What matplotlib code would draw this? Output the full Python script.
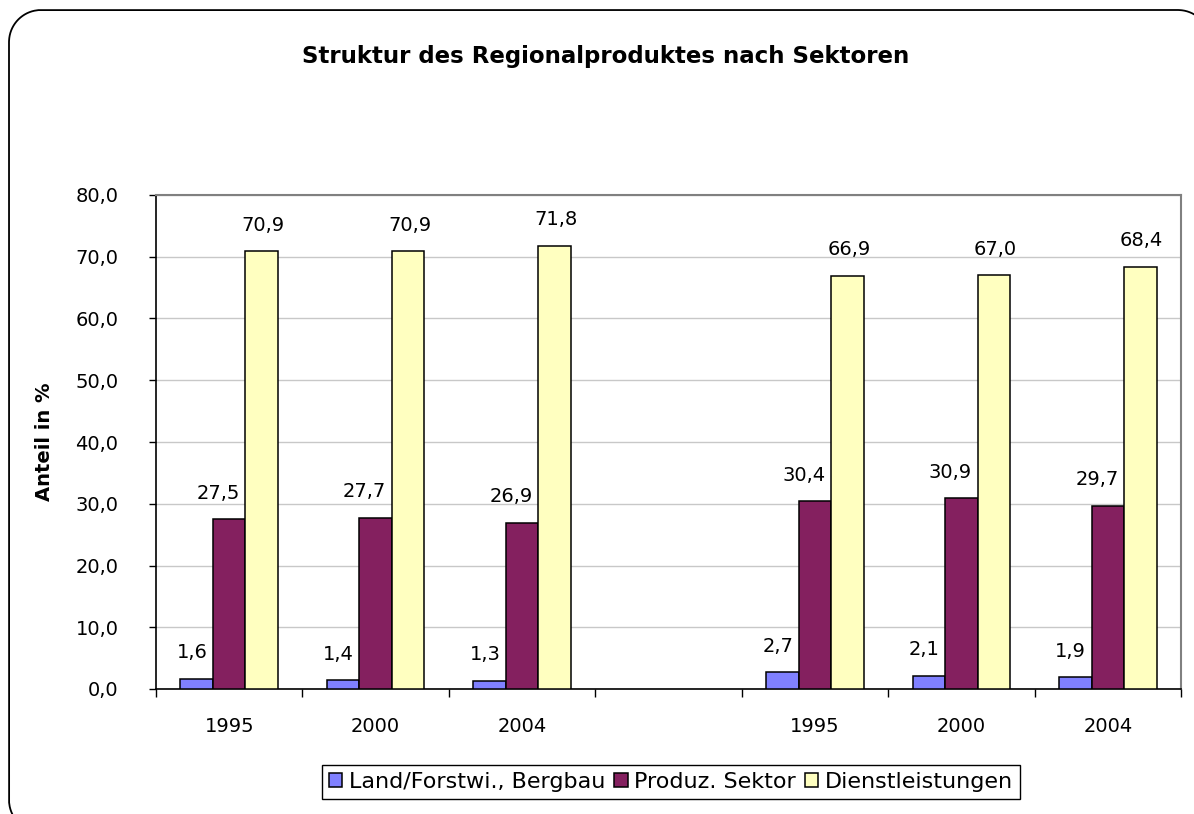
import numpy as np
import matplotlib
matplotlib.use('Agg')
import matplotlib.pyplot as plt
from matplotlib.lines import Line2D

plt.rcParams['font.family'] = ['DejaVu Sans']

years = ['1995', '2000', '2004', '', '1995', '2000', '2004']
land = [1.6, 1.4, 1.3, np.nan, 2.7, 2.1, 1.9]
produz = [27.5, 27.7, 26.9, np.nan, 30.4, 30.9, 29.7]
dienst = [70.9, 70.9, 71.8, np.nan, 66.9, 67.0, 68.4]
series_names = ['Land/Forstwi., Bergbau', 'Produz. Sektor', 'Dienstleistungen']
colors = ['#8080ff', '#84205f', '#ffffc0']

W, H = 1194, 814
fig = plt.figure(figsize=(W / 100, H / 100), dpi=100)
fig.patch.set_facecolor('white')

# outer rounded frame, partly outside the canvas (pixel coords, origin bottom-left)
r = 32
x0, x1, y0, y1 = 9, 1210, -18, H - 10
pts = []
for cx, cy, a0 in [(x1 - r, y1 - r, 0), (x0 + r, y1 - r, 90),
                   (x0 + r, y0 + r, 180), (x1 - r, y0 + r, 270)]:
    t = np.radians(np.linspace(a0, a0 + 90, 20))
    pts.append(np.column_stack([cx + r * np.cos(t), cy + r * np.sin(t)]))
pts.append(pts[0][:1])
pts = np.vstack(pts)
# dense resample so that off-canvas parts can be dropped cleanly
seg = np.linspace(0, 1, 60)
dense = np.vstack([a + (b - a) * seg[:, None] for a, b in zip(pts[:-1], pts[1:])])
outside = (dense[:, 0] < 0) | (dense[:, 0] > W) | (dense[:, 1] < 0) | (dense[:, 1] > H)
dense[outside] = np.nan
fig.add_artist(Line2D(dense[:, 0], dense[:, 1], transform=None, color='black', lw=1.3))

ax = fig.add_axes([156 / W, 1 - 689 / H, (1181 - 156) / W, (689 - 195) / H])

x = np.arange(len(years))
bw = 0.222
for i, (vals, col, name) in enumerate(zip([land, produz, dienst], colors, series_names)):
    pos = x + (i - 1) * bw
    ax.bar(pos, vals, width=bw, color=col, edgecolor='black', linewidth=1.1,
           label=name, zorder=3)
    for p, v in zip(pos, vals):
        if np.isnan(v):
            continue
        txt = f'{v:.1f}'.replace('.', ',')
        if i < 2:
            # keep label clear of the taller neighbouring bar
            ax.annotate(txt, (p + bw / 2, v), xytext=(-4, 12),
                        textcoords='offset points', ha='right', va='bottom', fontsize=14)
        else:
            ax.annotate(txt, (p, v), xytext=(1, 12),
                        textcoords='offset points', ha='center', va='bottom', fontsize=14)

ax.set_xlim(-0.5, len(years) - 0.5)
ax.set_ylim(0, 80)
ax.set_yticks(np.arange(0, 81, 10))
ax.set_yticklabels([f'{t:.1f}'.replace('.', ',') for t in np.arange(0, 81, 10)], fontsize=14)
ax.yaxis.grid(True, color='#c8c8c8', lw=1, zorder=0)
ax.tick_params(axis='y', direction='out', length=5, width=1, pad=22)

ax.set_xticks(np.arange(-0.5, len(years), 1.0))
ax.set_xticklabels([])
ax.set_xticks(x, minor=True)
ax.set_xticklabels(years, minor=True, fontsize=14)
ax.tick_params(axis='x', which='major', direction='out', length=6, width=1)
ax.tick_params(axis='x', which='minor', length=0, pad=20)

for s in ['left', 'bottom']:
    ax.spines[s].set_color('black')
    ax.spines[s].set_linewidth(1.2)
for s in ['top', 'right']:
    ax.spines[s].set_color('#808080')
    ax.spines[s].set_linewidth(1.5)

fig.text(606 / W, 1 - 57 / H, 'Struktur des Regionalproduktes nach Sektoren',
         ha='center', va='center', fontsize=16.5, fontweight='bold')
fig.text(45 / W, 1 - 442 / H, 'Anteil in %', rotation=90, ha='center', va='center',
         fontsize=14, fontweight='bold')

leg = fig.legend(loc='center', bbox_to_anchor=(671 / W, 1 - 782 / H), ncol=3,
                 fontsize=16, fancybox=False, edgecolor='black', framealpha=1,
                 handlelength=0.6, handleheight=0.6, handletextpad=0.3,
                 columnspacing=0.4, borderpad=0.3)
leg.get_frame().set_linewidth(1.0)

fig.savefig('out.png', dpi=100)
